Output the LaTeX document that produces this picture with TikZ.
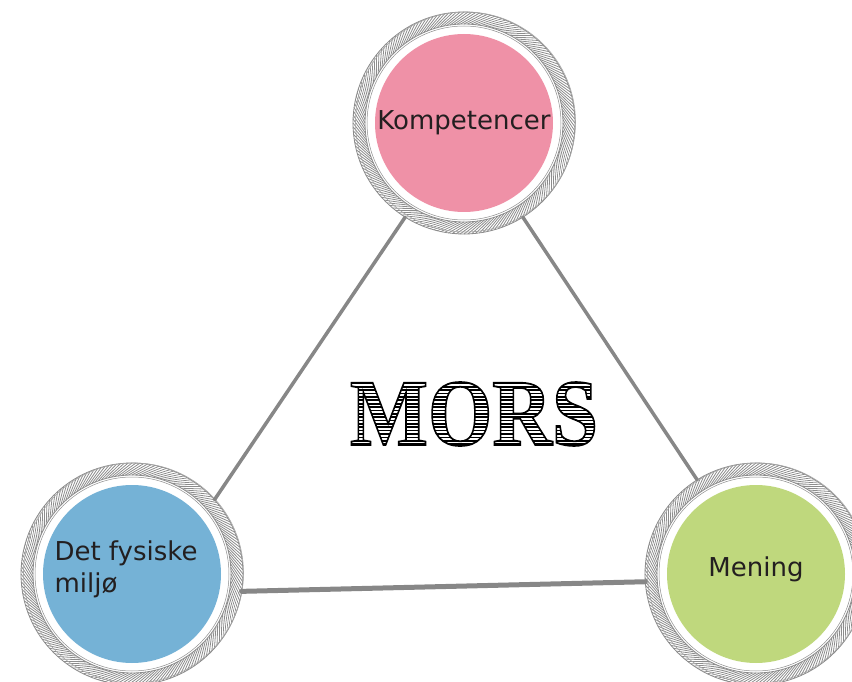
\documentclass[tikz,border=0pt]{standalone}
\usepackage{fontspec}
\setsansfont{DejaVu Sans}
\newfontfamily\morsfont{Liberation Serif}
\usetikzlibrary{positioning}

\definecolor{pinkfill}{RGB}{239,145,167}
\definecolor{bluefill}{RGB}{117,178,214}
\definecolor{greenfill}{RGB}{191,216,125}
\definecolor{linegray}{RGB}{135,135,135}
\definecolor{textdark}{RGB}{35,31,32}

\begin{document}
\begin{tikzpicture}[x=1pt, y=-1pt,
area/.style={circle, minimum size=178pt, inner sep=0pt, outer sep=22pt, font=\sffamily\fontsize{26}{32}\selectfont, text=textdark, align=center},
link/.style={draw=linegray, line width=3.5pt, line cap=round},
hatch/.style={draw=black!45, line width=0.8pt},
rim/.style={draw=black!45, line width=0.8pt},
]
\clip (0,0) rectangle (852,682);
%Nodes
\node[area, fill=pinkfill]  (komp) at (464,123) {Kompetencer};
\node[area, fill=bluefill]  (fys)  at (132,574)
  {\raisebox{4pt}[\height][\depth]{\begin{tabular}{@{}l@{}}Det fysiske\\miljø\end{tabular}}\kern12pt};
\node[area, fill=greenfill] (men)  at (756,574) {\raisebox{5pt}[\height][\depth]{Mening}};
\node[anchor=base, font=\morsfont\bfseries\fontsize{95}{95}\selectfont] (mors) at (474,445)
  {\scalebox{0.87}[1]{%
    \special{pdf:literal direct q 7 Tr}\rlap{MORS}\special{pdf:literal direct 0 Tr}%
    \rlap{\vbox to 64pt{\xleaders\vbox to 3.3pt{\vfil\hrule height 1.7pt width 300pt}\vfil}}%
    \special{pdf:literal direct Q}%
    \special{pdf:literal direct 1 Tr 1.8 w}MORS\special{pdf:literal direct 0 Tr}}};

%Rings
\foreach \c in {komp,fys,men}{
  \draw[rim, line width=0.5pt] (\c.center) circle (97);
  \foreach \a in {0,2,...,358}
    \draw[hatch] ([shift={(\a:99)}]\c.center) -- ([shift={(\a+10:111)}]\c.center);
  \draw[rim] (\c.center) circle (99);
  \draw[rim] (\c.center) circle (111);
  \draw[rim, draw=black!35, line width=0.6pt] ([shift={(1.5,-1)}]\c.center) circle (110);
}

%Lines
\draw[link] (komp.-122) -- (fys.42);
\draw[link] (komp.-58) -- (men.122);
\draw[link, line width=5pt] (fys.-9) -- (men.184);
\end{tikzpicture}
\end{document}
